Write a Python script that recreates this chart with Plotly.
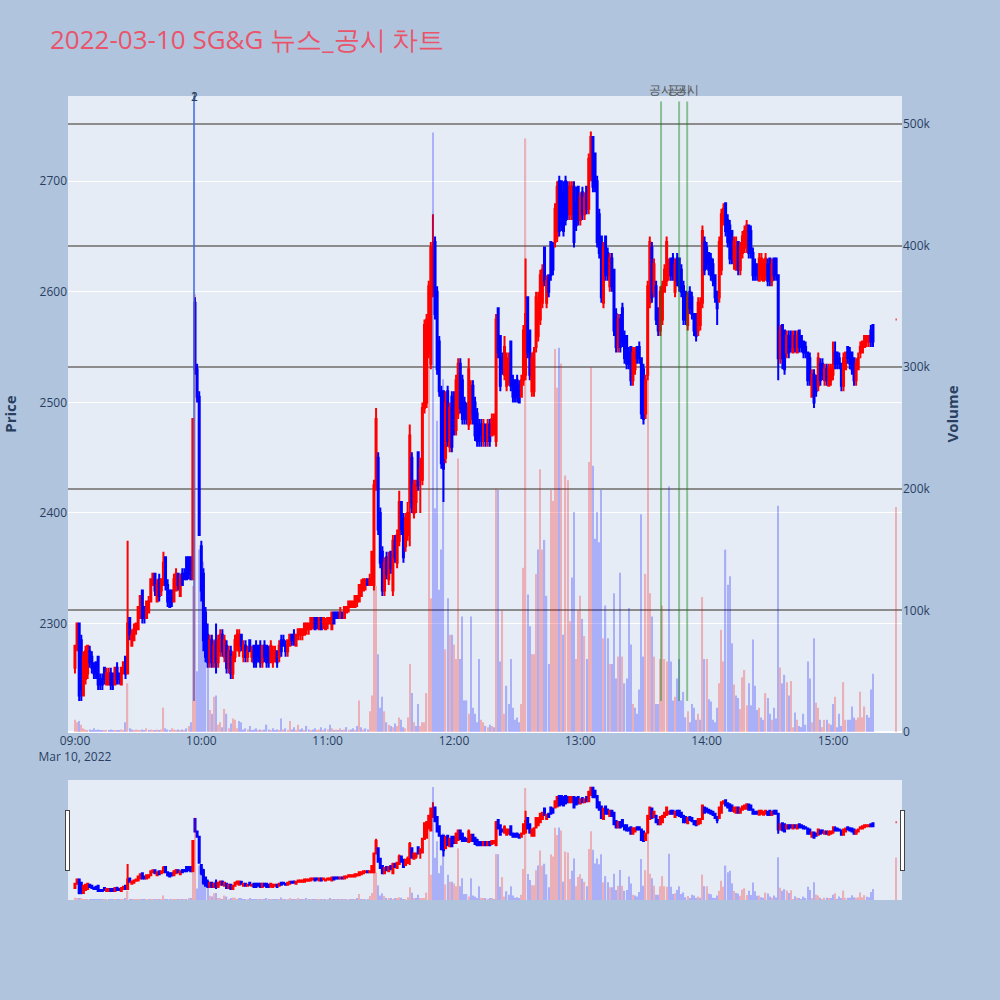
import pandas as pd
import plotly.graph_objects as go
from plotly.subplots import make_subplots

# ---- time axis: 1-minute candles 09:00-15:19 plus the 15:30 closing auction ----
times = list(pd.date_range("2022-03-10 09:00", "2022-03-10 15:19", freq="1min")) + [pd.Timestamp("2022-03-10 15:30")]

opens = [
    # 09:00
    2260,2280,2300,2285,2235,2250,2255,2275,2270,2260, 2265,2270,2250,2250,2260,2245,2245,2255,2255,2245,
    2260,2255,2245,2255,2270,2255,2305,2280,2285,2295, 2295,2305,2330,2315,2305,2310,2320,2335,2345,2320,
    2340,2330,2335,2360,2335,2330,2330,2320,2330,2345, 2325,2345,2345,2360,2360,2360,2340,2590,2530,2505,
    # 10:00
    2370,2345,2310,2290,2265,2285,2265,2285,2265,2275, 2290,2270,2280,2260,2275,2255,2270,2280,2275,2290,
    2270,2280,2270,2285,2270,2280,2280,2280,2280,2265, 2280,2280,2275,2265,2265,2270,2275,2270,2285,2285,
    2280,2275,2280,2290,2290,2280,2290,2290,2290,2290, 2295,2295,2295,2300,2305,2305,2295,2305,2300,2295,
    # 11:00
    2300,2300,2295,2310,2310,2310,2305,2310,2305,2310, 2315,2315,2315,2315,2320,2320,2325,2330,2335,2340,
    2335,2335,2335,2425,2450,2400,2365,2330,2360,2340, 2365,2330,2375,2355,2375,2410,2395,2370,2380,2410,
    2450,2400,2410,2455,2430,2430,2495,2500,2545,2535, 2600,2645,2600,2555,2510,2510,2450,2510,2460,2505,
    # 12:00
    2500,2475,2490,2535,2520,2500,2495,2480,2490,2515, 2500,2490,2480,2480,2465,2480,2465,2480,2470,2475,
    2465,2585,2560,2540,2525,2515,2520,2555,2520,2520, 2520,2515,2505,2520,2525,2595,2565,2510,2510,2550,
    2560,2575,2590,2640,2590,2615,2645,2640,2645,2650, 2700,2700,2690,2700,2695,2670,2670,2695,2680,2695,
    # 13:00
    2665,2690,2670,2695,2675,2705,2740,2725,2700,2670, 2650,2590,2650,2635,2605,2630,2620,2580,2550,2575,
    2585,2560,2560,2545,2550,2520,2530,2550,2550,2540, 2530,2490,2525,2590,2640,2600,2605,2585,2565,2575,
    2600,2610,2615,2630,2630,2600,2630,2630,2620,2605, 2600,2570,2600,2595,2580,2580,2565,2570,2590,2645,
    # 14:00
    2640,2635,2630,2625,2615,2600,2595,2620,2665,2680, 2665,2660,2655,2630,2620,2645,2620,2635,2640,2640,
    2660,2655,2635,2625,2625,2610,2615,2610,2615,2625, 2630,2610,2630,2630,2615,2540,2570,2565,2545,2560,
    2560,2545,2560,2545,2565,2560,2555,2550,2545,2540, 2505,2525,2520,2515,2535,2535,2520,2530,2515,2520,
    # 15:00
    2525,2545,2545,2540,2535,2515,2530,2550,2545,2545, 2540,2520,2530,2545,2545,2550,2555,2555,2565,2570,
    2575,
]

highs = [
    2280,2300,2300,2290,2275,2280,2280,2280,2275,2265, 2265,2270,2255,2255,2260,2260,2260,2260,2255,2260,
    2265,2255,2260,2265,2270,2375,2305,2295,2300,2300, 2315,2325,2330,2315,2320,2325,2340,2345,2345,2340,
    2345,2340,2365,2360,2340,2330,2330,2345,2350,2345, 2345,2350,2350,2360,2360,2360,2485,2595,2535,2510,
    2375,2350,2315,2300,2290,2290,2285,2300,2290,2295, 2295,2290,2285,2280,2280,2275,2290,2295,2295,2290,
    2285,2285,2280,2285,2280,2280,2285,2280,2285,2280, 2285,2280,2280,2285,2280,2280,2275,2285,2290,2290,
    2285,2285,2290,2290,2295,2290,2295,2295,2295,2300, 2300,2300,2305,2305,2305,2305,2305,2305,2305,2305,
    2305,2305,2310,2310,2310,2310,2315,2310,2315,2315, 2320,2320,2320,2325,2325,2335,2340,2340,2340,2340,
    2345,2365,2430,2495,2455,2405,2370,2360,2365,2365, 2365,2380,2380,2385,2420,2410,2400,2400,2410,2480,
    2455,2430,2430,2455,2450,2500,2575,2580,2610,2645, 2670,2650,2605,2560,2515,2510,2510,2515,2500,2510,
    2510,2525,2540,2540,2525,2505,2500,2540,2520,2520, 2505,2495,2485,2485,2485,2480,2485,2485,2490,2490,
    2580,2585,2560,2545,2560,2545,2545,2555,2525,2520, 2525,2520,2525,2570,2630,2595,2565,2545,2550,2600,
    2600,2620,2625,2640,2615,2615,2645,2645,2680,2700, 2705,2700,2700,2705,2700,2700,2700,2700,2695,2695,
    2690,2695,2690,2695,2725,2745,2740,2725,2705,2675, 2650,2645,2650,2640,2635,2635,2620,2585,2580,2580,
    2590,2565,2560,2550,2550,2550,2550,2550,2555,2540, 2535,2525,2610,2650,2645,2630,2610,2585,2605,2610,
    2625,2650,2630,2630,2635,2630,2635,2630,2625,2610, 2600,2600,2605,2600,2580,2580,2595,2595,2660,2650,
    2645,2635,2635,2630,2615,2600,2650,2675,2680,2680, 2670,2665,2655,2650,2650,2645,2645,2655,2660,2665,
    2660,2660,2640,2630,2625,2635,2635,2630,2635,2630, 2630,2630,2630,2630,2615,2570,2570,2565,2565,2565,
    2565,2565,2565,2565,2565,2560,2555,2555,2545,2545, 2530,2530,2525,2545,2540,2540,2535,2535,2535,2535,
    2555,2555,2545,2545,2535,2545,2545,2550,2550,2545, 2540,2540,2545,2555,2555,2560,2560,2560,2570,2570,
    2575,
]

lows = [
    2255,2275,2230,2230,2235,2245,2250,2260,2255,2250, 2250,2240,2240,2240,2245,2245,2245,2240,2240,2245,
    2245,2245,2245,2255,2250,2255,2285,2280,2285,2290, 2295,2305,2300,2300,2305,2310,2320,2335,2325,2320,
    2320,2325,2335,2330,2315,2315,2315,2320,2330,2330, 2325,2335,2340,2340,2340,2340,2340,2525,2500,2380,
    2320,2275,2265,2260,2260,2260,2260,2255,2260,2270, 2270,2265,2255,2255,2250,2250,2265,2275,2270,2275,
    2265,2265,2265,2275,2265,2260,2260,2265,2260,2260, 2265,2260,2260,2265,2260,2265,2260,2265,2270,2280,
    2270,2270,2280,2280,2280,2280,2285,2285,2285,2290, 2290,2290,2295,2295,2295,2295,2295,2295,2295,2295,
    2295,2300,2295,2300,2305,2305,2305,2305,2305,2310, 2310,2315,2315,2315,2315,2320,2325,2330,2330,2335,
    2335,2335,2330,2420,2380,2350,2325,2325,2340,2335, 2345,2325,2355,2350,2370,2380,2355,2365,2375,2370,
    2400,2395,2400,2420,2400,2425,2490,2495,2540,2530, 2595,2575,2525,2505,2440,2410,2445,2460,2455,2455,
    2470,2470,2485,2490,2480,2480,2480,2475,2480,2480, 2465,2460,2460,2460,2460,2460,2460,2460,2470,2470,
    2460,2540,2510,2525,2520,2510,2515,2510,2500,2500, 2500,2500,2505,2515,2520,2540,2520,2505,2505,2545,
    2555,2570,2585,2605,2585,2595,2610,2615,2640,2645, 2650,2655,2650,2660,2665,2665,2665,2640,2655,2660,
    2660,2665,2665,2670,2670,2700,2690,2690,2640,2630, 2590,2585,2610,2610,2600,2600,2560,2545,2545,2545,
    2550,2535,2530,2530,2515,2515,2525,2535,2535,2485, 2480,2485,2520,2585,2590,2595,2570,2560,2560,2570,
    2600,2605,2610,2610,2610,2595,2605,2600,2595,2570, 2570,2565,2580,2575,2560,2555,2560,2565,2585,2615,
    2620,2615,2610,2605,2590,2570,2590,2615,2660,2650, 2640,2625,2625,2620,2620,2615,2615,2630,2635,2635,
    2630,2630,2610,2610,2610,2610,2610,2610,2610,2605, 2605,2605,2610,2610,2520,2535,2530,2525,2540,2540,
    2545,2545,2545,2545,2545,2545,2540,2540,2515,2515, 2505,2495,2505,2510,2515,2520,2515,2515,2515,2515,
    2520,2530,2530,2530,2510,2510,2530,2535,2530,2525, 2515,2515,2530,2540,2545,2550,2550,2550,2550,2550,
    2575,
]

closes = [
    2280,2300,2235,2240,2270,2275,2280,2265,2260,2255, 2255,2245,2245,2245,2250,2255,2255,2245,2245,2260,
    2250,2250,2260,2265,2255,2300,2290,2290,2295,2300, 2315,2325,2305,2305,2320,2320,2340,2345,2330,2335,
    2325,2340,2355,2335,2320,2315,2320,2340,2345,2335, 2340,2335,2340,2340,2345,2340,2485,2530,2505,2380,
    2330,2285,2270,2265,2285,2265,2280,2265,2285,2290, 2275,2285,2260,2275,2255,2270,2285,2290,2290,2280,
    2280,2270,2275,2275,2275,2265,2265,2270,2265,2280, 2270,2265,2265,2280,2275,2275,2265,2280,2275,2280,
    2275,2285,2290,2285,2285,2290,2295,2295,2295,2300, 2300,2300,2305,2305,2295,2300,2305,2295,2305,2300,
    2305,2305,2310,2300,2305,2305,2310,2305,2315,2315, 2320,2320,2320,2325,2325,2335,2335,2340,2340,2335,
    2340,2365,2425,2485,2385,2355,2330,2355,2345,2360, 2350,2375,2360,2380,2410,2385,2360,2395,2400,2470,
    2405,2425,2425,2425,2440,2495,2570,2575,2605,2640, 2630,2580,2530,2510,2445,2440,2500,2465,2495,2460,
    2475,2520,2535,2495,2485,2485,2485,2530,2515,2485, 2470,2465,2465,2470,2480,2465,2480,2465,2485,2480,
    2575,2545,2515,2530,2550,2540,2535,2515,2505,2505, 2505,2500,2520,2565,2580,2545,2525,2540,2545,2595,
    2590,2615,2620,2610,2610,2600,2615,2620,2675,2695, 2655,2660,2655,2665,2670,2695,2695,2645,2660,2665,
    2685,2670,2685,2675,2720,2740,2695,2695,2645,2635, 2595,2640,2615,2615,2630,2605,2565,2550,2575,2550,
    2555,2540,2535,2535,2520,2545,2545,2540,2540,2490, 2485,2520,2605,2645,2595,2625,2575,2565,2600,2605,
    2620,2645,2625,2615,2615,2625,2610,2605,2600,2575, 2575,2595,2585,2580,2565,2560,2590,2590,2655,2620,
    2625,2620,2615,2610,2595,2585,2645,2670,2675,2655, 2645,2630,2630,2645,2640,2620,2640,2650,2655,2660,
    2635,2635,2615,2615,2615,2630,2630,2625,2630,2610, 2610,2625,2615,2615,2540,2565,2540,2530,2560,2545,
    2550,2560,2550,2560,2550,2550,2545,2545,2520,2520, 2525,2500,2510,2540,2520,2525,2530,2520,2530,2530,
    2530,2535,2535,2535,2515,2540,2545,2540,2535,2530, 2520,2535,2540,2550,2555,2560,2560,2560,2555,2555,
    2575,
]

volumes_k = [
    10,8,9,6,3,2,1,2,1,3, 1,2,1,1,1,1,1,2,1,1,
    1,1,2,1,8,40,3,2,1,2, 1,1,2,1,3,1,2,1,1,2,
    1,2,20,3,2,1,3,2,1,2, 1,2,1,3,5,8,120,360,50,150,
    120,140,85,60,18,15,29,30,6,8, 4,19,15,3,7,11,10,3,9,8,
    2,3,2,5,1,2,3,1,2,1, 2,6,2,1,3,1,2,1,11,2,
    3,1,9,2,4,1,6,2,3,1, 5,2,1,2,3,1,2,4,1,3,
    2,6,3,1,2,1,3,1,2,4, 1,2,3,1,5,26,4,2,3,2,
    17,30,130,120,64,20,29,17,8,6, 5,4,7,5,12,10,4,3,12,56,
    32,8,5,23,5,8,8,32,318,110, 493,184,256,117,150,290,68,110,80,80,
    72,60,225,60,95,26,26,15,95,20, 15,8,60,10,8,5,4,6,5,4,
    200,199,58,100,15,38,23,60,20,10, 12,8,23,135,488,113,87,64,64,130,
    150,216,150,158,112,56,199,190,315,283, 316,303,80,211,207,91,127,181,60,100,
    112,93,79,60,222,300,219,159,181,156, 199,77,104,77,56,56,114,44,62,131,
    62,40,44,102,72,23,20,15,35,179, 62,130,297,114,95,62,23,23,60,104,
    60,58,202,58,26,29,44,60,26,33, 12,17,8,23,20,10,15,10,111,60,
    60,27,25,10,8,20,40,84,58,150, 121,128,73,39,30,28,19,45,51,22,
    40,22,76,38,18,20,12,10,32,28, 15,10,20,11,186,53,40,47,41,30,
    42,4,16,10,5,4,15,6,58,44, 8,77,24,20,10,4,10,10,7,6,
    23,29,4,15,5,41,10,10,10,21, 12,10,12,33,12,21,14,12,35,48,
    185,
]

news_times = ["2022-03-10 09:56:32", "2022-03-10 09:56:32"]
news_labels = ["1", "2"]
disclosure_times = ["2022-03-10 13:38:20", "2022-03-10 13:46:55", "2022-03-10 13:50:45"]
disclosure_labels = ["공시", "공시", "공시"]

assert len(opens) == len(highs) == len(lows) == len(closes) == len(volumes_k) == len(times)

volumes = [v * 1000 for v in volumes_k]
vol_colors = []
for i, c in enumerate(closes):
    ref = opens[0] if i == 0 else closes[i - 1]
    vol_colors.append("red" if c > ref else "blue")

x_start, x_end = "2022-03-10 08:56:41", "2022-03-10 15:32:47"
price_range = [2202, 2777]

fig = make_subplots(specs=[[{"secondary_y": True}]])
fig.add_trace(go.Candlestick(
    x=times, open=opens, high=highs, low=lows, close=closes,
    increasing=dict(line=dict(color="red", width=2), fillcolor="red"),
    decreasing=dict(line=dict(color="blue", width=2), fillcolor="blue"),
    name="Price", showlegend=False), secondary_y=False)
fig.add_trace(go.Bar(
    x=times, y=volumes, width=36000, marker=dict(color=vol_colors, line=dict(width=0)),
    opacity=0.25, name="Volume", showlegend=False), secondary_y=True)

for t in news_times:
    fig.add_shape(type="line", xref="x", yref="y", x0=t, x1=t, y0=min(lows), y1=price_range[1],
                  line=dict(color="royalblue", width=2), opacity=0.5)
for t, lab in zip(news_times, news_labels):
    fig.add_annotation(x=t, y=1.0, xref="x", yref="paper", text=lab, showarrow=False,
                       yanchor="middle", font=dict(size=12, color="#2a3f5f"))
for t in disclosure_times:
    fig.add_shape(type="line", xref="x", yref="y", x0=t, x1=t, y0=min(lows), y1=2772,
                  line=dict(color="green", width=2), opacity=0.4)
for t, lab in zip(disclosure_times, disclosure_labels):
    fig.add_annotation(x=t, y=1.0095, xref="x", yref="paper", text=lab, showarrow=False,
                       yanchor="middle", font=dict(size=12, color="#555"))

fig.update_layout(
    width=1000, height=1000,
    paper_bgcolor="lightsteelblue",
    margin=dict(l=68, r=98, t=96, b=100),
    title=dict(text="2022-03-10 SG&G 뉴스_공시 차트", x=0.05, xanchor="left", y=0.96, yanchor="middle",
               font=dict(size=26, color="#EA546B")),
    showlegend=False,
)
fig.update_xaxes(type="date", range=[x_start, x_end], automargin=False, domain=[0, 1],
                 rangeslider=dict(visible=True, thickness=0.1493, bgcolor="#e5ecf6",
                                  range=[x_start, x_end]))
fig.update_yaxes(title=dict(text="<b>Price</b>", font=dict(size=15), standoff=20),
                 range=price_range, automargin=False, secondary_y=False)
fig.update_yaxes(title=dict(text="<b>Volume</b>", font=dict(size=15), standoff=17),
                 range=[0, 523000], showgrid=True, gridcolor="#8c8c8c", gridwidth=1.5,
                 automargin=False, secondary_y=True)

fig.write_html("out.html", config={"displayModeBar": False},
               post_script="document.body.style.margin='0';")
